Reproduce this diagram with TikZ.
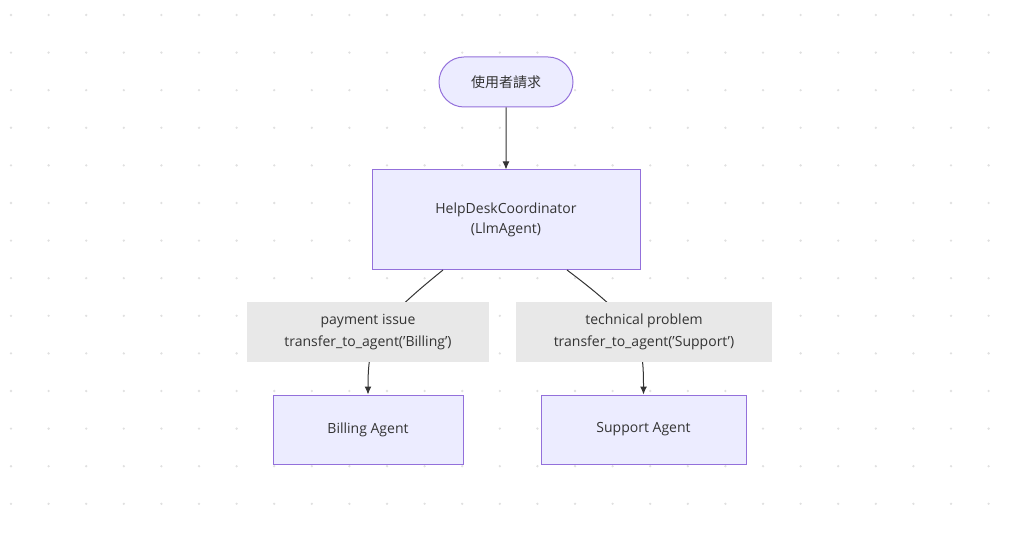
\documentclass[tikz,border=0pt]{standalone}
\usepackage{fontspec}
\setmainfont{Open Sans}
\newfontfamily\cjk{Noto Sans CJK TC}
\usetikzlibrary{shapes.misc,arrows.meta}
\definecolor{nfill}{HTML}{ECECFF}
\definecolor{nbord}{HTML}{9370DB}
\definecolor{lfill}{HTML}{E8E8E8}
\definecolor{edge}{HTML}{333333}
\begin{document}
\begin{tikzpicture}[x=1pt,y=-1pt,
  box/.style={draw=nbord,fill=nfill,line width=1pt,text=edge,font=\fontsize{14}{20}\selectfont,align=center,inner sep=0pt},
  lab/.style={fill=lfill,text=edge,font=\fontsize{14}{22}\selectfont,align=center,inner sep=0pt},
  arr/.style={draw=edge,line width=1pt,-{Latex[length=8pt,width=7pt]}}]
\useasboundingbox (0,0) rectangle (1024,534);
\foreach \i in {0,...,27}{\foreach \j in {0,...,14}{
  \fill[black!12] (11+37.6*\i,15+37.6*\j) circle (1.3);}}
\node[box,rounded rectangle,minimum width=134pt,minimum height=50pt] (u) at (506,82) {\cjk 使用者請求};
\node[box,minimum width=268pt,minimum height=100pt] (c) at (506,220) {HelpDeskCoordinator\\(LlmAgent)};
\node[box,minimum width=190pt,minimum height=69pt] (b) at (368,429.5) {Billing Agent};
\node[box,minimum width=205pt,minimum height=69pt] (s) at (643.5,429.5) {Support Agent};
\coordinate (c1) at (443,270);
\coordinate (c2) at (567,270);
\draw[arr] (u) -- (c);
\draw[arr] (c1) .. controls (375,325) and (368,340) .. (b.north);
\draw[arr] (c2) .. controls (640,325) and (643.5,340) .. (s.north);
\node[lab,minimum width=242pt,minimum height=60pt] (lb) at (368,332) {payment issue\\transfer\_to\_agent('Billing')};
\node[lab,minimum width=256pt,minimum height=60pt] (ls) at (644,332) {technical problem\\transfer\_to\_agent('Support')};
\end{tikzpicture}
\end{document}
